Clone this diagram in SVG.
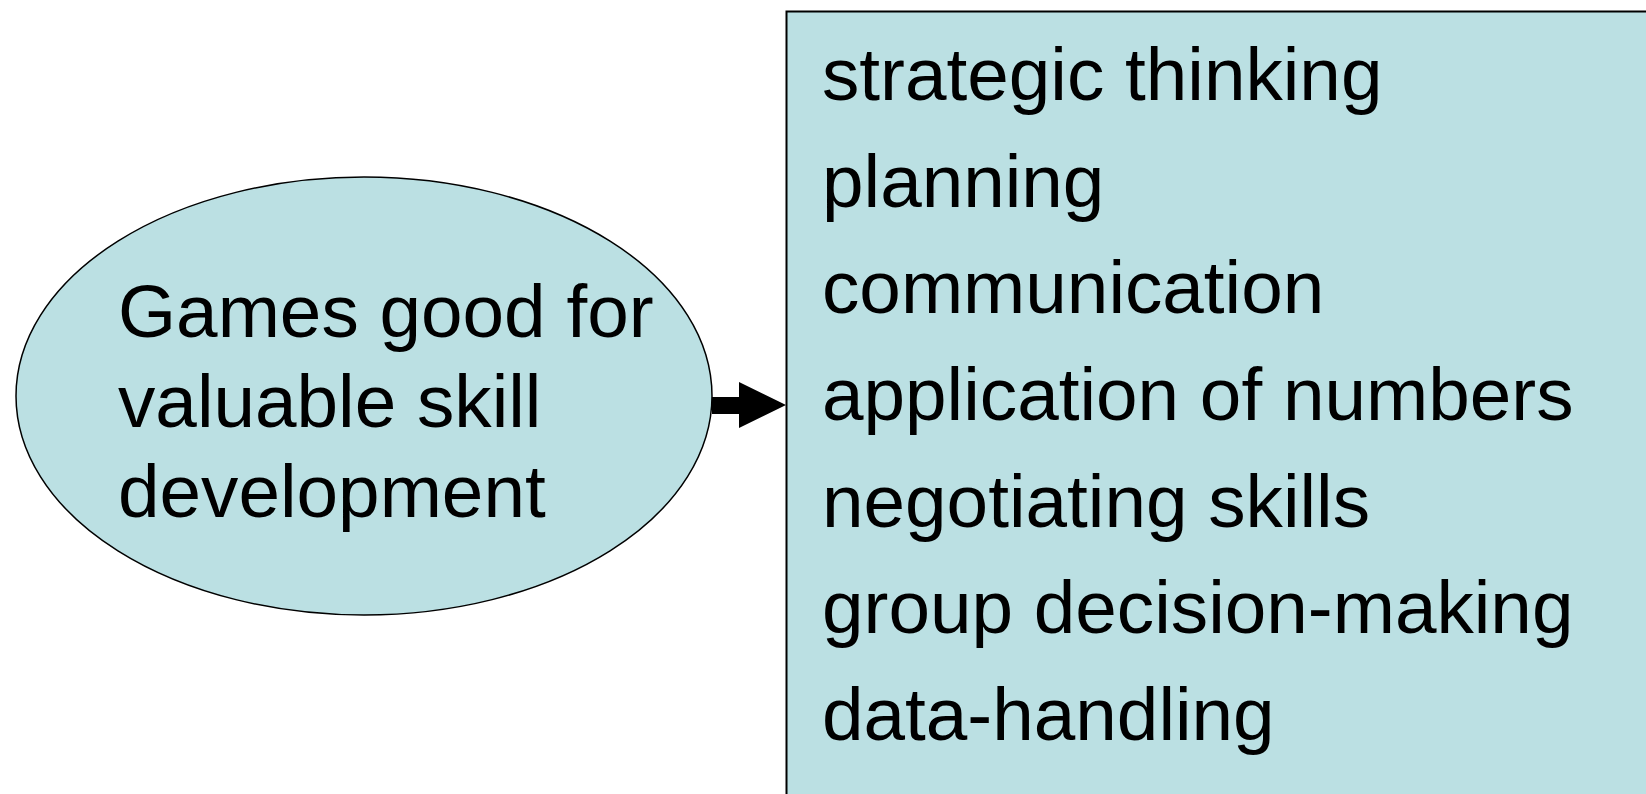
<svg xmlns="http://www.w3.org/2000/svg" width="1646" height="794" viewBox="0 0 1646 794">
  <style>
    .shape { fill: #BBE0E3; stroke: #000; }
    .label { font-family: "Liberation Sans", Arial, sans-serif; font-size: 74.7px; fill: #000; }
  </style>
  <rect width="1646" height="794" fill="#fff"/>

  <g id="node-games">
    <ellipse class="shape" cx="364" cy="396" rx="348" ry="219" stroke-width="1.5"/>
    <text class="label">
      <tspan x="118" y="337">Games good for</tspan>
      <tspan x="118" y="427">valuable skill</tspan>
      <tspan x="118" y="517">development</tspan>
    </text>
  </g>

  <g id="node-skills">
    <rect class="shape" x="786.5" y="11.5" width="880" height="800" stroke-width="2"/>
    <text class="label">
      <tspan x="822" y="100">strategic thinking</tspan>
      <tspan x="822" y="207">planning</tspan>
      <tspan x="822" y="313">communication</tspan>
      <tspan x="822" y="420">application of numbers</tspan>
      <tspan x="822" y="527">negotiating skills</tspan>
      <tspan x="822" y="633">group decision-making</tspan>
      <tspan x="822" y="740">data-handling</tspan>
    </text>
  </g>

  <g id="connectors">
    <polygon points="712,397 739,397 739,382 786,405 739,428 739,414 712,414" fill="#000"/>
  </g>
</svg>
